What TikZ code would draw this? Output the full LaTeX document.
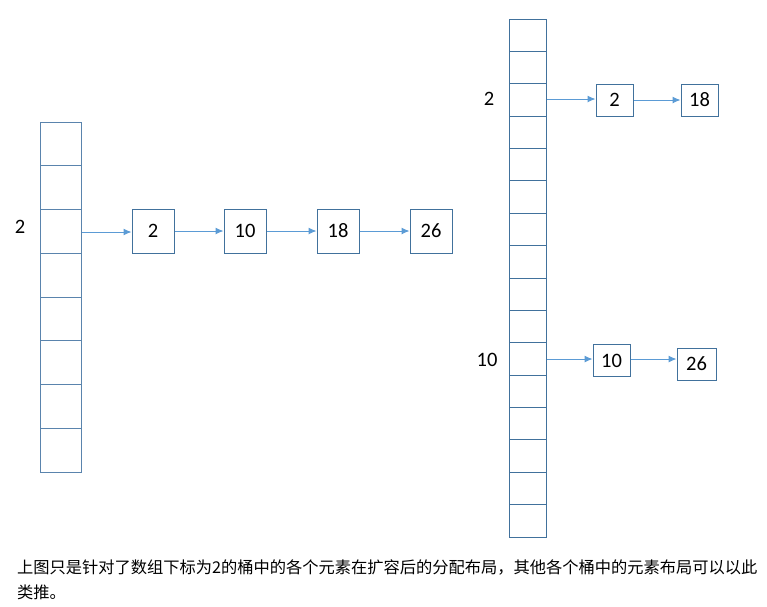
\documentclass[tikz,border=0pt]{standalone}
\usepackage{fontspec}
\setmainfont{Carlito}
\newfontfamily\cjk{Noto Sans CJK SC}
\usetikzlibrary{arrows.meta,positioning}
\definecolor{boxline}{HTML}{41719C}
\definecolor{cellline}{HTML}{5A84AD}
\definecolor{arrowc}{HTML}{5B9BD5}
\begin{document}
\begin{tikzpicture}[x=1pt, y=-1pt, font=\fontsize{20.5}{24}\selectfont,
    lcell/.style={draw=cellline, line width=1pt, minimum width=41pt, minimum height=43.75pt, inner sep=0pt},
    rcell/.style={draw=boxline, line width=1pt, minimum width=37pt, minimum height=32.375pt, inner sep=0pt},
    lbox/.style={draw=boxline, line width=1pt, minimum width=42pt, minimum height=44pt, inner sep=0pt},
    rbox/.style={draw=boxline, line width=1pt, minimum width=37pt, minimum height=32pt, inner sep=0pt},
    link/.style={draw=arrowc, line width=1pt, -{Latex[length=8pt,width=7pt]}}]
  \useasboundingbox (0,0) rectangle (767,606);
  % old table: 8 buckets
  \foreach \i in {1,...,8}
    \node[lcell] (l\i) at (60.5, 122+43.75*\i-21.875) {};
  % new table: 16 buckets
  \foreach \i in {1,...,16}
    \node[rcell] (r\i) at (527.5, 19+32.375*\i-16.1875) {};
  % bucket indices
  \node (li2) at (20, 227) {2};
  \node (ri2) at (489, 99) {2};
  \node (ri10) at (487, 360) {10};
  % chain before resize
  \node[lbox] (a2) at (153, 231) {2};
  \node[lbox] (a10) at (245, 231) {10};
  \node[lbox] (a18) at (338, 231) {18};
  \node[lbox] (a26) at (431, 231) {26};
  \draw[link] (l3.east |- 0,232) -- (a2.west |- 0,232);
  \draw[link] (a2) -- (a10);
  \draw[link] (a10) -- (a18);
  \draw[link] (a18) -- (a26);
  % chains after resize
  \node[rbox] (b2) at (614.5, 100) {2};
  \node[rbox] (b18) at (699.5, 100) {18};
  \node[rbox] (b10) at (611.5, 360.5) {10};
  \node[rbox, minimum width=39pt, minimum height=32pt] (b26) at (696.5, 364) {26};
  \draw[link] (r3.east |- 0,99) -- (b2.west |- 0,99);
  \draw[link] (b2) -- (b18);
  \draw[link] (r11.east |- 0,359) -- (b10.west |- 0,359);
  \draw[link] (b10.east |- 0,359) -- (b26.west |- 0,359);
  % caption
  \node[anchor=west, inner sep=0pt, font=\cjk\fontsize{16.25}{19}\selectfont] (cap1) at (17, 567) {上图只是针对了数组下标为2的桶中的各个元素在扩容后的分配布局，其他各个桶中的元素布局可以以此};
  \node[anchor=west, inner sep=0pt, font=\cjk\fontsize{16.25}{19}\selectfont] (cap2) at (17, 592) {类推。};
\end{tikzpicture}
\end{document}
